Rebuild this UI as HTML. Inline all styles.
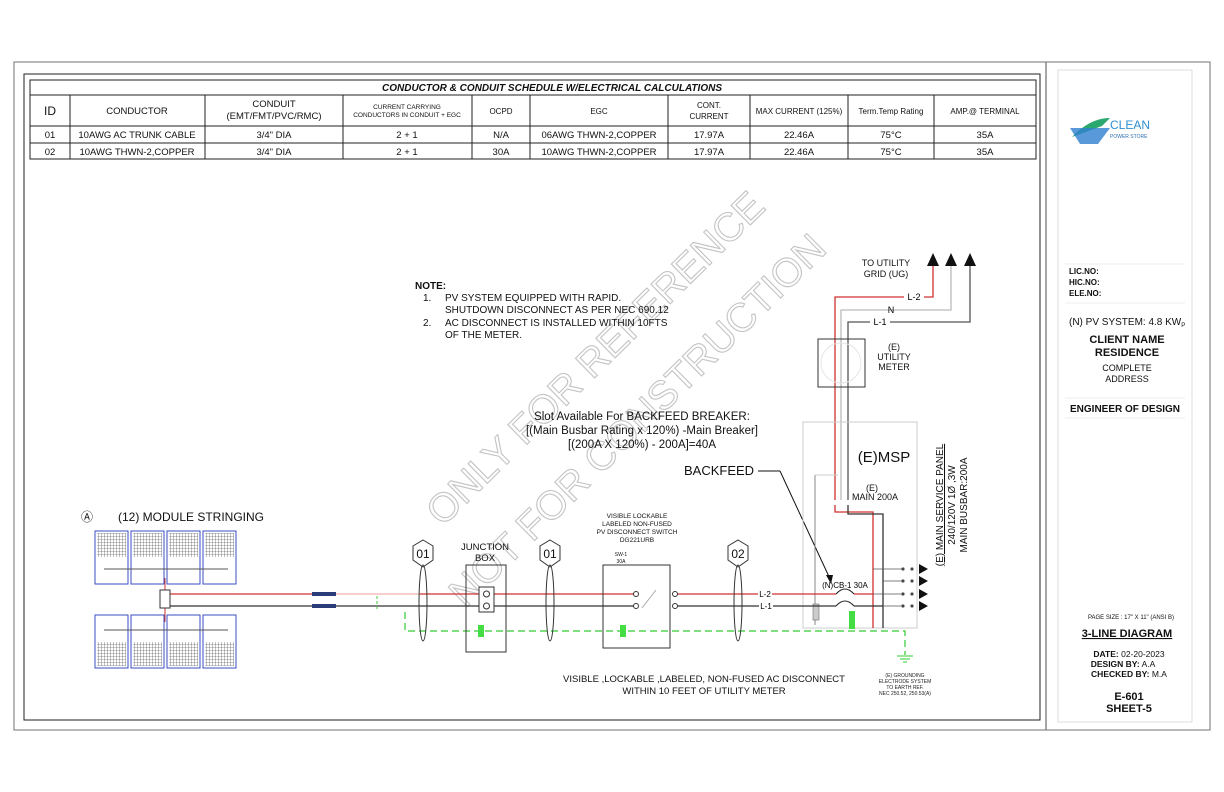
<!DOCTYPE html>
<html><head><meta charset="utf-8"><style>
html,body{margin:0;padding:0;background:#fff;}
svg{display:block;font-family:"Liberation Sans",Arial,sans-serif;}
</style></head><body>
<svg width="1224" height="792" viewBox="0 0 1224 792" xmlns="http://www.w3.org/2000/svg">
<rect width="1224" height="792" fill="#fff"/>
<!-- frames -->
<rect x="14" y="62" width="1196" height="668" fill="none" stroke="#888" stroke-width="1.2"/>
<rect x="24" y="74" width="1016" height="646" fill="none" stroke="#222" stroke-width="1"/>
<line x1="1046" y1="62" x2="1046" y2="730" stroke="#888" stroke-width="1.5"/>
<rect x="1058" y="70" width="134" height="652" fill="none" stroke="#ddd" stroke-width="1"/>

<!-- table -->
<g stroke="#222" stroke-width="1" fill="none">
<rect x="30" y="80" width="1006" height="79"/>
<line x1="30" y1="95" x2="1036" y2="95"/>
<line x1="30" y1="126" x2="1036" y2="126"/>
<line x1="30" y1="143" x2="1036" y2="143"/>
<line x1="70" y1="95" x2="70" y2="159"/><line x1="205" y1="95" x2="205" y2="159"/>
<line x1="343" y1="95" x2="343" y2="159"/><line x1="472" y1="95" x2="472" y2="159"/>
<line x1="530" y1="95" x2="530" y2="159"/><line x1="668" y1="95" x2="668" y2="159"/>
<line x1="750" y1="95" x2="750" y2="159"/><line x1="848" y1="95" x2="848" y2="159"/>
<line x1="934" y1="95" x2="934" y2="159"/>
</g>
<g font-size="9.5" fill="#111" text-anchor="middle">
<text x="552" y="91" font-weight="bold" font-style="italic" font-size="10">CONDUCTOR &amp; CONDUIT SCHEDULE W/ELECTRICAL CALCULATIONS</text>
<text x="50" y="115" font-size="12">ID</text>
<text x="137" y="114">CONDUCTOR</text>
<text x="274" y="107">CONDUIT</text><text x="274" y="119">(EMT/FMT/PVC/RMC)</text>
<text x="407" y="109" font-size="6.5">CURRENT CARRYING</text><text x="407" y="117" font-size="6.5">CONDUCTORS IN CONDUIT + EGC</text>
<text x="501" y="114" font-size="8">OCPD</text>
<text x="599" y="114" font-size="8">EGC</text>
<text x="709" y="108" font-size="8">CONT.</text><text x="709" y="119" font-size="8">CURRENT</text>
<text x="799" y="114" font-size="8">MAX CURRENT (125%)</text>
<text x="891" y="114" font-size="8">Term.Temp Rating</text>
<text x="985" y="114" font-size="8">AMP.@ TERMINAL</text>
<text x="50" y="138">01</text><text x="137" y="138">10AWG AC TRUNK CABLE</text><text x="274" y="138">3/4" DIA</text><text x="407" y="138">2 + 1</text><text x="501" y="138">N/A</text><text x="599" y="138">06AWG THWN-2,COPPER</text><text x="709" y="138">17.97A</text><text x="799" y="138">22.46A</text><text x="891" y="138">75°C</text><text x="985" y="138">35A</text>
<text x="50" y="155">02</text><text x="137" y="155">10AWG THWN-2,COPPER</text><text x="274" y="155">3/4" DIA</text><text x="407" y="155">2 + 1</text><text x="501" y="155">30A</text><text x="599" y="155">10AWG THWN-2,COPPER</text><text x="709" y="155">17.97A</text><text x="799" y="155">22.46A</text><text x="891" y="155">75°C</text><text x="985" y="155">35A</text>
</g>

<!-- watermark -->
<g fill="none" stroke="#c4c4c4" stroke-width="1.1" font-size="40">
<text x="595" y="372" text-anchor="middle" transform="rotate(-44.5 595 358)" textLength="455">ONLY FOR REFERENCE</text>
<text x="637" y="434" text-anchor="middle" transform="rotate(-44.6 637 420)" textLength="510">NOT FOR CONSTRUCTION</text>
</g>

<!-- notes -->
<g font-size="10" fill="#111">
<text x="415" y="289" font-weight="bold">NOTE:</text>
<text x="423" y="301">1.</text><text x="445" y="301">PV SYSTEM EQUIPPED WITH RAPID.</text>
<text x="445" y="313">SHUTDOWN DISCONNECT AS PER NEC 690.12</text>
<text x="423" y="326">2.</text><text x="445" y="326">AC DISCONNECT IS INSTALLED WITHIN 10FTS</text>
<text x="445" y="338">OF THE METER.</text>
</g>
<g font-size="11.5" fill="#111" text-anchor="middle">
<text x="642" y="420">Slot Available For BACKFEED BREAKER:</text>
<text x="642" y="434">[(Main Busbar Rating x 120%) -Main Breaker]</text>
<text x="642" y="448">[(200A X 120%) - 200A]=40A</text>
</g>
<text x="684" y="475" font-size="13" fill="#111">BACKFEED</text>
<line x1="758" y1="471" x2="780" y2="471" stroke="#111"/>
<line x1="780" y1="471" x2="831" y2="581" stroke="#111"/>
<polygon points="831,584 826,575 833,575" fill="#111"/>

<!-- utility -->
<text x="886" y="266" font-size="9" text-anchor="middle" fill="#111">TO UTILITY</text>
<text x="886" y="277" font-size="9" text-anchor="middle" fill="#111">GRID (UG)</text>
<polygon points="927,266 939,266 933,253" fill="#111"/>
<polygon points="945,266 957,266 951,253" fill="#111"/>
<polygon points="964,266 976,266 970,253" fill="#111"/>
<polyline points="835,500 835,297 933,297 933,266" fill="none" stroke="#d03030" stroke-width="1.3"/>
<polyline points="841,500 841,310 951,310 951,266" fill="none" stroke="#bbb" stroke-width="1.3"/>
<polyline points="848,500 848,322 970,322 970,266" fill="none" stroke="#555" stroke-width="1.3"/>
<rect x="904" y="291" width="20" height="11" fill="#fff"/><text x="914" y="300" font-size="9" text-anchor="middle">L-2</text>
<text x="891" y="313" font-size="9" text-anchor="middle">N</text>
<rect x="870" y="316" width="20" height="11" fill="#fff"/><text x="880" y="325" font-size="9" text-anchor="middle">L-1</text>
<rect x="818" y="339" width="47" height="48" fill="none" stroke="#333"/>
<circle cx="841" cy="363" r="20" fill="none" stroke="#e6e6e6"/>
<g font-size="9" text-anchor="middle" fill="#111"><text x="894" y="350">(E)</text><text x="894" y="360">UTILITY</text><text x="894" y="370">METER</text></g>

<!-- MSP -->
<rect x="803" y="422" width="114" height="206" fill="none" stroke="#ccc"/>
<text x="884" y="462" font-size="15" text-anchor="middle" fill="#111">(E)MSP</text>
<g font-size="9" text-anchor="middle" fill="#111"><text x="872" y="491">(E)</text><text x="875" y="500">MAIN 200A</text></g>
<g font-size="10" fill="#111" transform="rotate(-90 0 0)" text-anchor="middle">
<text x="-505" y="943" text-decoration="underline">(E) MAIN SERVICE PANEL</text>
<text x="-505" y="955">240/120V 1Ø ,3W</text>
<text x="-505" y="967">MAIN BUSBAR:200A</text>
</g>
<polyline points="835,505 835,512 873,512 873,628" fill="none" stroke="#d03030" stroke-width="1.3"/>
<polyline points="848,505 848,514 883,514 883,628" fill="none" stroke="#333" stroke-width="1.3"/>
<line x1="815" y1="475" x2="815" y2="625" stroke="#888"/>
<line x1="815" y1="475" x2="838" y2="475" stroke="#ccc"/>
<rect x="813" y="604" width="6" height="16" fill="#ccc" stroke="#555" stroke-width="0.5"/>
<g stroke="#555" stroke-width="0.8" fill="#333">
<line x1="873" y1="569" x2="903" y2="569"/><line x1="883" y1="581" x2="903" y2="581"/><line x1="873" y1="594" x2="903" y2="594"/><line x1="883" y1="606" x2="903" y2="606"/>
<circle cx="903" cy="569" r="1.2"/><circle cx="912" cy="569" r="1.2"/>
<circle cx="903" cy="581" r="1.2"/><circle cx="912" cy="581" r="1.2"/>
<circle cx="903" cy="594" r="1.2"/><circle cx="912" cy="594" r="1.2"/>
<circle cx="903" cy="606" r="1.2"/><circle cx="912" cy="606" r="1.2"/>
</g>
<g fill="#111"><polygon points="919,564 928,569 919,574"/><polygon points="919,576 928,581 919,586"/><polygon points="919,589 928,594 919,599"/><polygon points="919,601 928,606 919,611"/></g>
<text x="845" y="588" font-size="8" text-anchor="middle">(N)CB-1 30A</text>
<path d="M836,594 Q845,584 854,594" fill="none" stroke="#222"/>
<path d="M836,606 Q845,596 854,606" fill="none" stroke="#222"/>

<!-- main conductors -->
<line x1="170" y1="594" x2="330" y2="594" stroke="#d03030" stroke-width="1.3"/>
<line x1="330" y1="594" x2="420" y2="594" stroke="#f4b0b0" stroke-width="1.3"/>
<line x1="420" y1="594" x2="636" y2="594" stroke="#d03030" stroke-width="1.3"/>
<line x1="675" y1="594" x2="836" y2="594" stroke="#d03030" stroke-width="1.3"/>
<line x1="854" y1="594" x2="873" y2="594" stroke="#d03030" stroke-width="1.3"/>
<line x1="170" y1="606" x2="636" y2="606" stroke="#333" stroke-width="1.3"/>
<line x1="675" y1="606" x2="836" y2="606" stroke="#333" stroke-width="1.3"/>
<line x1="854" y1="606" x2="883" y2="606" stroke="#333" stroke-width="1.3"/>
<rect x="312" y="592" width="24" height="4" fill="#2a3d7a"/>
<rect x="312" y="604" width="24" height="4" fill="#2a3d7a"/>
<line x1="377" y1="596" x2="377" y2="610" stroke="#4c4" stroke-dasharray="3,2"/>
<rect x="758" y="589" width="14" height="10" fill="#fff"/><text x="765" y="597" font-size="8" text-anchor="middle">L-2</text>
<rect x="759" y="601" width="14" height="10" fill="#fff"/><text x="766" y="609" font-size="8" text-anchor="middle">L-1</text>
<!-- ground -->
<polyline points="405,612 405,631 905,631 905,655" fill="none" stroke="#3c3" stroke-width="1.2" stroke-dasharray="7,4"/>
<g stroke="#3c3"><line x1="897" y1="656" x2="913" y2="656"/><line x1="900" y1="659" x2="910" y2="659"/><line x1="903" y1="662" x2="907" y2="662"/></g>
<g font-size="5" text-anchor="middle" fill="#222"><text x="905" y="677">(E) GROUNDING</text><text x="905" y="683">ELECTRODE SYSTEM</text><text x="905" y="689">TO EARTH REF.</text><text x="905" y="695">NEC 250.52, 250.53(A)</text></g>
<rect x="478" y="625" width="6" height="12" fill="#4d4"/><rect x="620" y="625" width="6" height="12" fill="#4d4"/><rect x="849" y="611" width="6" height="18" fill="#4d4"/>

<!-- modules -->
<g stroke="#3a4cc0" stroke-width="1" fill="#fff">
<rect x="95" y="531" width="33" height="53"/><rect x="131" y="531" width="33" height="53"/><rect x="167" y="531" width="33" height="53"/><rect x="203" y="531" width="33" height="53"/>
<rect x="95" y="615" width="33" height="53"/><rect x="131" y="615" width="33" height="53"/><rect x="167" y="615" width="33" height="53"/><rect x="203" y="615" width="33" height="53"/>
</g>
<defs><pattern id="g" width="3" height="3" patternUnits="userSpaceOnUse"><path d="M3,0V3H0" fill="none" stroke="#333" stroke-width="0.6"/></pattern></defs>
<g fill="url(#g)">
<rect x="97" y="533" width="29" height="24"/><rect x="133" y="533" width="29" height="24"/><rect x="169" y="533" width="29" height="24"/><rect x="205" y="533" width="29" height="24"/>
<rect x="97" y="642" width="29" height="24"/><rect x="133" y="642" width="29" height="24"/><rect x="169" y="642" width="29" height="24"/><rect x="205" y="642" width="29" height="24"/>
</g>
<g stroke="#555"><line x1="104" y1="569" x2="228" y2="569"/><line x1="104" y1="630" x2="228" y2="630"/></g>
<line x1="165" y1="578" x2="165" y2="622" stroke="#d03030"/>
<rect x="160" y="590" width="10" height="18" fill="#fff" stroke="#333"/>
<text x="81" y="521" font-size="12" fill="#111">Ⓐ</text>
<text x="118" y="521" font-size="12" fill="#111">(12) MODULE STRINGING</text>

<!-- tags -->
<g fill="#fff" stroke="#333">
<polygon points="423,540 433,546 433,560 423,567 413,560 413,546"/>
<polygon points="550,540 560,546 560,560 550,567 540,560 540,546"/>
<polygon points="738,540 748,546 748,560 738,567 728,560 728,546"/>
<ellipse cx="423" cy="603" rx="4" ry="38" fill="none"/>
<ellipse cx="550" cy="603" rx="4" ry="38" fill="none"/>
<ellipse cx="738" cy="603" rx="4" ry="38" fill="none"/>
</g>
<g font-size="12" text-anchor="middle" fill="#111"><text x="423" y="558">01</text><text x="550" y="558">01</text><text x="738" y="558">02</text></g>

<!-- junction box -->
<g font-size="9.5" text-anchor="middle" fill="#111"><text x="485" y="550">JUNCTION</text><text x="485" y="561">BOX</text></g>
<rect x="466" y="565" width="40" height="87" fill="none" stroke="#333"/>
<rect x="479" y="587" width="15" height="25" fill="#fff" stroke="#333"/>
<circle cx="486.5" cy="594" r="3" fill="none" stroke="#333"/><circle cx="486.5" cy="606" r="3" fill="none" stroke="#333"/>

<!-- disconnect -->
<g font-size="6.5" text-anchor="middle" fill="#111"><text x="637" y="518">VISIBLE LOCKABLE</text><text x="637" y="526">LABELED NON-FUSED</text><text x="637" y="534">PV DISCONNECT SWITCH</text><text x="637" y="542">DG221URB</text>
<text x="621" y="556" font-size="5">SW-1</text><text x="621" y="563" font-size="5">30A</text></g>
<rect x="603" y="565" width="67" height="83" fill="none" stroke="#333"/>
<g fill="#fff" stroke="#333"><circle cx="636" cy="594" r="2.5"/><circle cx="675" cy="594" r="2.5"/><circle cx="636" cy="606" r="2.5"/><circle cx="675" cy="606" r="2.5"/></g>
<line x1="642" y1="608" x2="656" y2="590" stroke="#aaa"/>

<g font-size="9.5" text-anchor="middle" fill="#111"><text x="704" y="682">VISIBLE ,LOCKABLE ,LABELED, NON-FUSED AC DISCONNECT</text><text x="704" y="694">WITHIN 10 FEET OF UTILITY METER</text></g>

<!-- right panel -->
<path d="M1072,137 Q1090,118 1110,118 L1102,126 Z" fill="#2aa870"/>
<polygon points="1070,128 1110,128 1098,144 1080,144" fill="#2f7fd0" opacity="0.8"/>
<text x="1110" y="129" font-size="12" fill="#2f8fd0">CLEAN</text>
<text x="1110" y="138" font-size="5" fill="#2f6fb0">POWER STORE</text>
<line x1="1065" y1="264" x2="1185" y2="264" stroke="#eee"/>
<g font-size="8" font-weight="bold" fill="#111"><text x="1069" y="274">LIC.NO:</text><text x="1069" y="285">HIC.NO:</text><text x="1069" y="296">ELE.NO:</text></g>
<line x1="1065" y1="303" x2="1185" y2="303" stroke="#eee"/>
<text x="1069" y="325" font-size="10" fill="#111">(N) PV SYSTEM: 4.8 KW<tspan font-size="6" dy="2">P</tspan></text>
<g text-anchor="middle" fill="#111"><text x="1127" y="343" font-size="11" font-weight="bold">CLIENT NAME</text><text x="1127" y="356" font-size="11" font-weight="bold">RESIDENCE</text>
<text x="1127" y="371" font-size="9">COMPLETE</text><text x="1127" y="382" font-size="9">ADDRESS</text></g>
<line x1="1065" y1="398" x2="1185" y2="398" stroke="#eee"/>
<text x="1070" y="412" font-size="10" font-weight="bold" fill="#111">ENGINEER OF DESIGN</text>
<line x1="1065" y1="418" x2="1185" y2="418" stroke="#eee"/>
<g text-anchor="middle" fill="#111">
<text x="1131" y="619" font-size="6">PAGE SIZE : 17" X 11" (ANSI B)</text>
<text x="1127" y="637" font-size="11" font-weight="bold" text-decoration="underline">3-LINE DIAGRAM</text>
<text x="1129" y="657" font-size="8.5"><tspan font-weight="bold">DATE:</tspan> 02-20-2023</text>
<text x="1123" y="667" font-size="8.5"><tspan font-weight="bold">DESIGN BY:</tspan> A.A</text>
<text x="1129" y="677" font-size="8.5"><tspan font-weight="bold">CHECKED BY:</tspan> M.A</text>
<text x="1129" y="700" font-size="11" font-weight="bold">E-601</text>
<text x="1129" y="712" font-size="11" font-weight="bold">SHEET-5</text>
</g>
</svg>
</body></html>
